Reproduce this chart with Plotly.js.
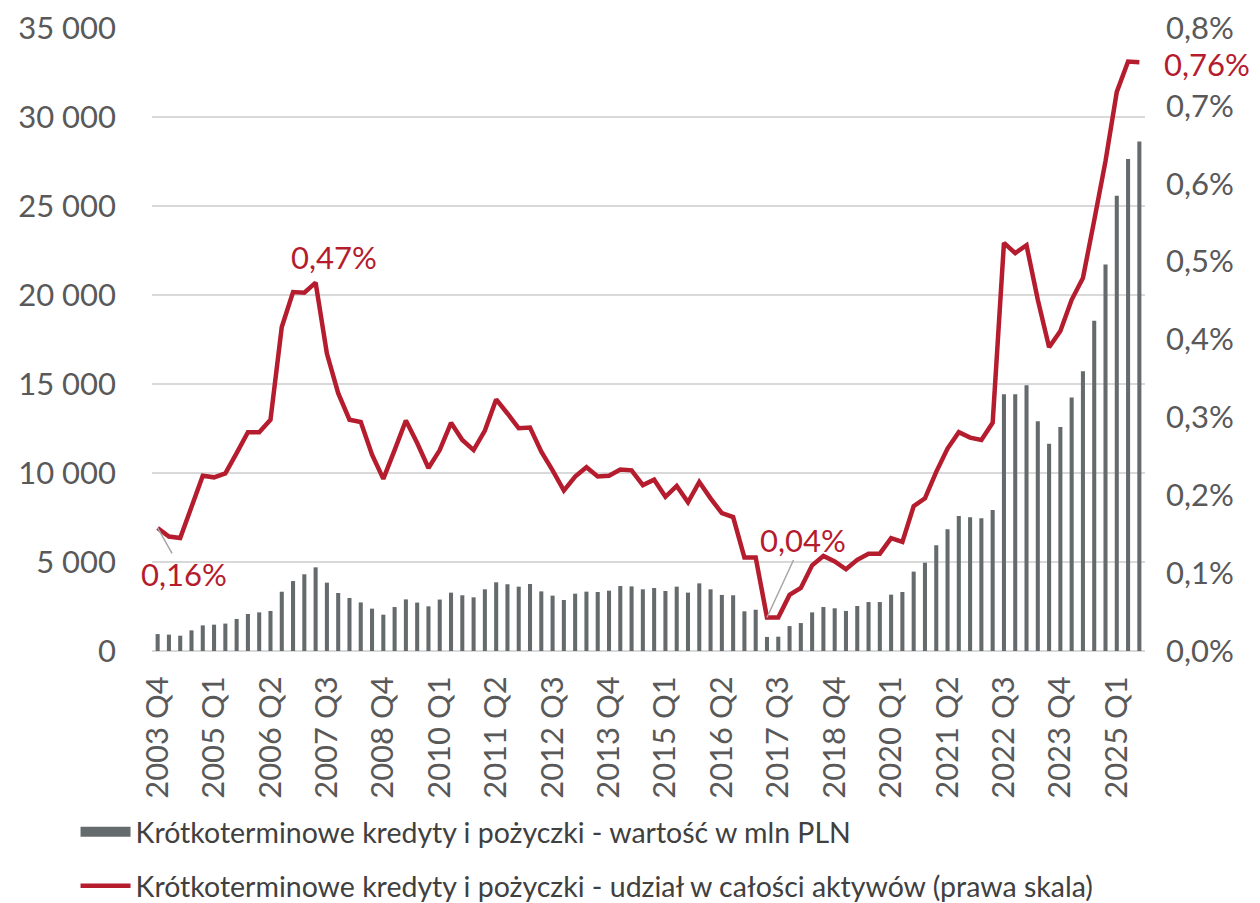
<!DOCTYPE html>
<html>
<head>
<meta charset="utf-8">
<script src="https://cdn.plot.ly/plotly-3.0.1.min.js"></script>
<style>
  html, body { margin: 0; padding: 0; background: #fff; }
  #chart { width: 1260px; height: 903px; }
</style>
</head>
<body>
<div id="chart"></div>
<script>
// quarters 2003 Q4 .. 2025 Q3
const startYear = 2003
const quarters = []
for (let i = 0; i < 88; i++) {
    const q = (3 + i) % 4 + 1
    const y = startYear + Math.floor((3 + i) / 4)
    quarters.push(y + ' Q' + q)
}
const tickLabels = ['2003 Q4', '2005 Q1', '2006 Q2', '2007 Q3', '2008 Q4', '2010 Q1', '2011 Q2', '2012 Q3',
    '2013 Q4', '2015 Q1', '2016 Q2', '2017 Q3', '2018 Q4', '2020 Q1', '2021 Q2', '2022 Q3', '2023 Q4', '2025 Q1']

// wartość w mln PLN
const loansValue = [
    950, 920, 860, 1160, 1440, 1480, 1540, 1800, 2080, 2170,
    2250, 3330, 3930, 4310, 4700, 3840, 3260, 2980, 2730, 2380,
    2040, 2470, 2900, 2720, 2510, 2890, 3280, 3130, 3015, 3465,
    3860, 3750, 3615, 3765, 3350, 3110, 2865, 3220, 3335, 3315,
    3390, 3650, 3630, 3465, 3540, 3370, 3615, 3280, 3800, 3465,
    3150, 3130, 2230, 2320, 790, 805, 1400, 1570, 2170, 2470,
    2400, 2250, 2530, 2750, 2750, 3165, 3315, 4460, 4960, 5940,
    6840, 7580, 7520, 7460, 7920, 14430, 14430, 14930, 12910, 11650,
    12590, 14240, 15710, 18560, 21720, 25570, 27640, 28620
]
// udział w całości aktywów, %
const loansShare = [
    0.158, 0.147, 0.145, 0.183, 0.225, 0.223, 0.228, 0.254, 0.281, 0.281,
    0.297, 0.416, 0.461, 0.460, 0.473, 0.382, 0.331, 0.297, 0.294, 0.252,
    0.221, 0.258, 0.296, 0.267, 0.235, 0.258, 0.293, 0.271, 0.258, 0.283,
    0.323, 0.305, 0.286, 0.287, 0.256, 0.232, 0.206, 0.224, 0.236, 0.224,
    0.225, 0.233, 0.232, 0.213, 0.220, 0.198, 0.212, 0.191, 0.217, 0.196,
    0.177, 0.172, 0.120, 0.120, 0.043, 0.043, 0.072, 0.081, 0.110, 0.122,
    0.115, 0.105, 0.117, 0.125, 0.125, 0.145, 0.140, 0.186, 0.196, 0.230,
    0.260, 0.281, 0.274, 0.271, 0.293, 0.524, 0.511, 0.521, 0.451, 0.390,
    0.411, 0.451, 0.479, 0.553, 0.629, 0.718, 0.757, 0.756
]

const red = '#b51c2e'
const grey = '#656b6d'
const font = 'Lato, "Open Sans", sans-serif'
const barName = 'Krótkoterminowe kredyty i pożyczki - wartość w mln PLN'

let barTrace = {
    x: quarters,
    y: loansValue,
    type: 'bar',
    name: barName,
    marker: { color: grey },
    showlegend: false,
    hoverinfo: 'skip'
}
// legend entry only: wide grey block like the original key
let barKey = {
    x: [null],
    y: [null],
    type: 'scatter',
    mode: 'lines',
    name: barName,
    line: { color: grey, width: 18 },
    legendgroup: 'a',
    hoverinfo: 'skip'
}
let lineTrace = {
    x: quarters,
    y: loansShare,
    type: 'scatter',
    mode: 'lines',
    yaxis: 'y2',
    name: 'Krótkoterminowe kredyty i pożyczki - udział w całości aktywów (prawa skala)',
    line: { color: red, width: 4.5 },
    legendgroup: 'b',
    hoverinfo: 'skip'
}

function pointLabel(i, text, opts) {
    return Object.assign({
        x: quarters[i], y: loansShare[i], xref: 'x', yref: 'y2',
        text: text, showarrow: false,
        font: { family: font, size: 31, color: red }
    }, opts)
}

let layout = {
    width: 1260,
    height: 903,
    margin: { l: 152, r: 115, t: 28, b: 252, autoexpand: false },
    paper_bgcolor: '#fff',
    plot_bgcolor: '#fff',
    separators: ', ',
    bargap: 0.64,
    font: { family: font, color: '#595959' },
    xaxis: {
        type: 'category',
        range: [-0.5, quarters.length - 0.5],
        tickmode: 'array',
        tickvals: tickLabels,
        ticktext: tickLabels,
        tickangle: -90,
        tickfont: { size: 31, color: '#595959' },
        ticks: '',
        ticklabelstandoff: 18,
        showgrid: false,
        zeroline: false,
        showline: false
    },
    yaxis: {
        range: [0, 35000],
        dtick: 5000,
        tickformat: ',.0f',
        separatethousands: true,
        tickfont: { size: 31, color: '#595959' },
        ticklabelstandoff: 35,
        showgrid: true,
        gridcolor: '#d9d9d9',
        gridwidth: 2,
        zeroline: true,
        zerolinecolor: '#d9d9d9',
        zerolinewidth: 2
    },
    yaxis2: {
        overlaying: 'y',
        side: 'right',
        range: [0, 0.8],
        dtick: 0.1,
        tickformat: '.1f',
        ticksuffix: '%',
        tickfont: { size: 31, color: '#595959' },
        ticklabelstandoff: 20,
        showgrid: false,
        zeroline: false
    },
    showlegend: true,
    legend: {
        orientation: 'v',
        x: -0.077,
        xanchor: 'left',
        y: -0.25,
        yanchor: 'top',
        traceorder: 'grouped',
        tracegroupgap: 14,
        itemwidth: 50,
        font: { size: 28.5, color: '#404040' },
        bgcolor: 'rgba(0,0,0,0)'
    },
    annotations: [
        pointLabel(0, '0,16%', { showarrow: true, arrowhead: 0, arrowwidth: 1.5, arrowcolor: '#a6a6a6', ax: 26, ay: 46 }),
        pointLabel(14, '0,47%', { xshift: 18, yshift: 26 }),
        pointLabel(54, '0,04%', { showarrow: true, arrowhead: 0, arrowwidth: 1.5, arrowcolor: '#a6a6a6', ax: 36, ay: -78 }),
        pointLabel(87, '0,76%', { xshift: 68, yshift: -2 })
    ]
}

Plotly.newPlot('chart', [barTrace, barKey, lineTrace], layout, { staticPlot: true })
</script>
</body>
</html>
